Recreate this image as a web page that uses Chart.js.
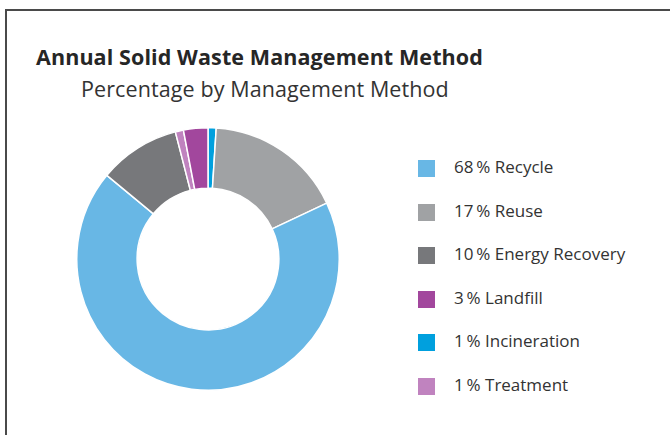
<!DOCTYPE html>
<html>
<head>
<meta charset="utf-8">
<script src="https://cdn.jsdelivr.net/npm/chart.js@4"></script>
<style>
  body { margin: 0; background: #fff; font-family: "Open Sans", sans-serif; }
  #card {
    position: absolute; left: 5px; top: 9px; width: 700px; height: 460px;
    border-left: 2px solid #4a4a4a; border-top: 2px solid #4a4a4a;
  }
  #title {
    position: absolute; left: 36px; top: 42px; font-size: 21.5px; font-weight: 700;
    color: #262626; letter-spacing: 0.1px; white-space: nowrap; line-height: 30px;
  }
  #subtitle {
    position: absolute; left: 81px; top: 74px; font-size: 21.5px; color: #333;
    white-space: nowrap; line-height: 30px; letter-spacing: 0.1px;
  }
  #wrap { position: absolute; left: 75px; top: 127px; width: 266px; height: 264px; }
  #legend { position: absolute; left: 418px; top: 159px; margin: 0; padding: 0; list-style: none; }
  #legend li {
    height: 43.5px; display: flex; align-items: flex-start;
    font-size: 17px; color: #333; white-space: nowrap;
  }
  #legend span.box { width: 17px; height: 17px; margin-right: 19px; margin-top: 1px; }
  #legend span.txt { line-height: 18px; margin-top: -1px; }
</style>
</head>
<body>
<div id="card"></div>
<div id="title">Annual Solid Waste Management Method</div>
<div id="subtitle">Percentage by Management Method</div>
<div id="wrap"><canvas id="chart"></canvas></div>
<ul id="legend"></ul>
<script>
const methods = ["Recycle", "Reuse", "Energy Recovery", "Landfill", "Incineration", "Treatment"];
const shares = [68, 17, 10, 3, 1, 1];
const colors = ["#68b7e5", "#a0a2a4", "#77787b", "#a2479d", "#00a0de", "#c083bf"];
// order the slices are drawn clockwise from the top
const sliceOrder = [4, 1, 0, 2, 5, 3];

const legend = document.getElementById("legend");
methods.forEach((m, i) => {
  const li = document.createElement("li");
  li.innerHTML = `<span class="box" style="background:${colors[i]}"></span>` +
    `<span class="txt">${shares[i]}\u2009% ${m}</span>`;
  legend.appendChild(li);
});

const ctx = document.getElementById("chart");

const data = {
  labels: sliceOrder.map((i) => methods[i]),
  datasets: [
    {
      data: sliceOrder.map((i) => shares[i]),
      backgroundColor: sliceOrder.map((i) => colors[i]),
      borderColor: "#ffffff",
      borderWidth: 1.5,
    },
  ],
};

const chart = new Chart(ctx, {
  type: "doughnut",
  data: data,
  options: {
    responsive: true,
    maintainAspectRatio: false,
    animation: false,
    cutout: "54%",
    plugins: {
      legend: { display: false },
      tooltip: { enabled: false },
    },
  },
});
</script>
</body>
</html>
